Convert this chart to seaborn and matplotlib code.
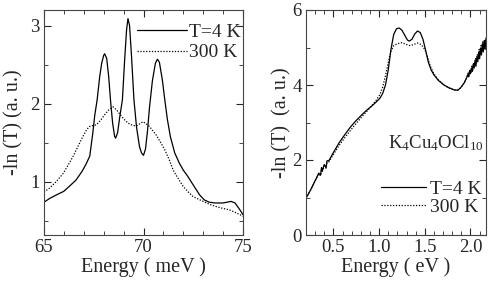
import numpy as np
import matplotlib
matplotlib.use('Agg')
import matplotlib.pyplot as plt
from matplotlib.ticker import MultipleLocator, FormatStrFormatter
import seaborn as sns

# left panel: phonon region (meV)
e_mev_4k = [65.0, 65.3, 65.6, 66.0, 66.3, 66.6, 66.9, 67.1, 67.3, 67.45, 67.55, 67.67, 67.8, 67.9,
            68.0, 68.05, 68.15, 68.25, 68.35, 68.45, 68.55, 68.6, 68.7, 68.8, 68.94, 69.05, 69.15,
            69.22, 69.3, 69.4, 69.52, 69.65, 69.8, 69.9, 70.0, 70.1, 70.2, 70.3, 70.45, 70.6, 70.7,
            70.8, 70.95, 71.07, 71.2, 71.35, 71.57, 71.8, 72.0, 72.2, 72.4, 72.6, 72.83, 73.05, 73.3,
            73.6, 74.0, 74.2, 74.4, 74.6, 74.85, 75.0]
ln_4k = [0.74, 0.79, 0.83, 0.88, 0.95, 1.02, 1.13, 1.22, 1.33, 1.62, 1.85, 2.05, 2.35, 2.52,
         2.62, 2.64, 2.58, 2.35, 2.02, 1.75, 1.58, 1.56, 1.63, 1.82, 2.05, 2.55, 2.95,
         3.09, 3.00, 2.60, 2.05, 1.70, 1.45, 1.37, 1.34, 1.42, 1.65, 1.95, 2.30, 2.52, 2.57,
         2.53, 2.30, 2.05, 1.80, 1.58, 1.37, 1.24, 1.15, 1.08, 1.00, 0.92, 0.83, 0.77, 0.74,
         0.73, 0.73, 0.74, 0.75, 0.73, 0.64, 0.58]

e_mev_300k = [65.0, 65.28, 65.6, 65.97, 66.2, 66.45, 66.7, 66.95, 67.15, 67.29, 67.45, 67.63, 67.85,
              68.05, 68.25, 68.47, 68.65, 68.89, 69.1, 69.3, 69.5, 69.67, 69.85, 69.97, 70.1, 70.3,
              70.45, 70.64, 70.85, 71.07, 71.3, 71.49, 71.75, 72.0, 72.25, 72.5, 72.75, 73.0, 73.35,
              73.7, 74.0, 74.34, 74.6, 74.85, 75.0]
ln_300k = [0.87, 0.92, 1.0, 1.11, 1.21, 1.32, 1.45, 1.58, 1.67, 1.71, 1.72, 1.73, 1.79,
           1.86, 1.92, 1.96, 1.92, 1.84, 1.78, 1.74, 1.72, 1.72, 1.75, 1.77, 1.75, 1.71,
           1.66, 1.60, 1.51, 1.41, 1.28, 1.15, 1.04, 0.94, 0.87, 0.81, 0.78, 0.75, 0.71,
           0.68, 0.66, 0.64, 0.61, 0.58, 0.56]

# right panel: wide range (eV)
e_ev_4k = [0.20, 0.25, 0.30, 0.34, 0.36, 0.37, 0.38, 0.40, 0.42, 0.43, 0.45, 0.50, 0.56, 0.62,
           0.68, 0.74, 0.80, 0.86, 0.92, 0.97, 1.01, 1.04, 1.07, 1.10, 1.13, 1.16, 1.19, 1.22,
           1.25, 1.28, 1.31, 1.33, 1.36, 1.39, 1.42, 1.45, 1.48, 1.51, 1.54, 1.57, 1.60, 1.65,
           1.71, 1.76, 1.82, 1.86, 1.89, 1.93, 1.96, 1.97, 1.98, 1.99, 2.00, 2.01, 2.02, 2.03,
           2.04, 2.05, 2.06, 2.07, 2.08, 2.09, 2.10, 2.11, 2.12, 2.13, 2.14, 2.15, 2.16, 2.17]
ln_ev_4k = [0.98, 1.20, 1.45, 1.65, 1.60, 1.80, 1.72, 1.88, 1.80, 1.98, 1.98, 2.20, 2.45, 2.66,
            2.86, 3.03, 3.18, 3.32, 3.44, 3.55, 3.65, 3.78, 4.00, 4.40, 4.95, 5.35, 5.50, 5.52,
            5.46, 5.33, 5.20, 5.17, 5.22, 5.36, 5.44, 5.40, 5.22, 4.92, 4.60, 4.40, 4.27, 4.12,
            4.00, 3.93, 3.87, 3.86, 3.92, 4.05, 4.20, 4.28, 4.22, 4.38, 4.30, 4.45, 4.36, 4.55,
            4.45, 4.65, 4.50, 4.75, 4.62, 4.88, 4.70, 4.98, 4.80, 5.10, 4.88, 5.18, 4.95, 5.25]

e_ev_300k = [0.20, 0.25, 0.30, 0.34, 0.36, 0.37, 0.38, 0.40, 0.42, 0.43, 0.45, 0.50, 0.56, 0.62,
             0.68, 0.74, 0.80, 0.86, 0.92, 0.97, 1.01, 1.04, 1.07, 1.10, 1.13, 1.16, 1.20, 1.25,
             1.30, 1.34, 1.38, 1.42, 1.46, 1.50, 1.53, 1.56, 1.60, 1.65, 1.71, 1.76, 1.82, 1.86,
             1.89, 1.93, 1.96, 1.975, 1.985, 1.995, 2.005, 2.015, 2.025, 2.035, 2.045, 2.055, 2.065,
             2.075, 2.085, 2.095, 2.105, 2.115, 2.125, 2.135, 2.145, 2.155, 2.165]
ln_ev_300k = [0.98, 1.20, 1.44, 1.63, 1.58, 1.78, 1.70, 1.85, 1.78, 1.94, 1.95, 2.15, 2.38, 2.58,
              2.77, 2.95, 3.12, 3.28, 3.45, 3.60, 3.75, 3.95, 4.25, 4.60, 4.90, 5.05, 5.10, 5.13,
              5.08, 5.05, 5.08, 5.12, 5.08, 4.95, 4.75, 4.50, 4.30, 4.13, 4.00, 3.93, 3.87, 3.86,
              3.92, 4.05, 4.20, 4.32, 4.24, 4.42, 4.33, 4.52, 4.40, 4.60, 4.50, 4.72, 4.58, 4.82,
              4.68, 4.95, 4.78, 5.05, 4.90, 5.15, 4.98, 5.22, 5.08]

labels = ['T=4 K', '300 K']

sns.set_style('ticks')
plt.rcParams['font.family'] = ['Liberation Serif', 'DejaVu Serif']
plt.rcParams['mathtext.fontset'] = 'custom'
plt.rcParams['mathtext.rm'] = 'Liberation Serif'
plt.rcParams['mathtext.it'] = 'Liberation Serif:italic'

fig = plt.figure(figsize=(4.91, 2.85), dpi=100)
ax1 = fig.add_axes([44/491, 1-235/285, 199/491, 225/285])
ax2 = fig.add_axes([306/491, 1-235/285, 180/491, 225/285])

sns.lineplot(x=e_mev_4k, y=ln_4k, ax=ax1, color='k', lw=0.9, label=labels[0])
sns.lineplot(x=e_mev_300k, y=ln_300k, ax=ax1, color='k', lw=0.9, linestyle=(0, (1, 1.3)), label=labels[1])
sns.lineplot(x=e_ev_4k, y=ln_ev_4k, ax=ax2, color='k', lw=0.9, label=labels[0])
sns.lineplot(x=e_ev_300k, y=ln_ev_300k, ax=ax2, color='k', lw=0.9, linestyle=(0, (1, 1.3)), label=labels[1])

ax1.set_xlim(65, 75)
ax1.set_ylim(0.32, 3.2)
ax1.xaxis.set_major_locator(MultipleLocator(5))
ax1.xaxis.set_minor_locator(MultipleLocator(1))
ax1.yaxis.set_major_locator(MultipleLocator(1))
ax1.yaxis.set_minor_locator(MultipleLocator(0.5))
ax1.set_xlabel('Energy ( meV )', fontsize=14.5, labelpad=1)
ax1.set_ylabel('-ln (T) (a. u.)', fontsize=14.5, labelpad=5)

ax2.set_xlim(0.2, 2.17)
ax2.set_ylim(0, 6)
ax2.xaxis.set_major_locator(MultipleLocator(0.5))
ax2.xaxis.set_minor_locator(MultipleLocator(0.1))
ax2.xaxis.set_major_formatter(FormatStrFormatter('%.1f'))
ax2.yaxis.set_major_locator(MultipleLocator(2))
ax2.yaxis.set_minor_locator(MultipleLocator(1))
ax2.set_xlabel('Energy ( eV )', fontsize=14.5, labelpad=1)
ax2.set_ylabel('-ln (T)  (a. u.)', fontsize=14.5, labelpad=1)
ax2.text(0.72, 0.41, r'K$_4$Cu$_4$OCl$_{10}$', transform=ax2.transAxes,
         ha='center', va='center', fontsize=13.5)

for ax in (ax1, ax2):
    ax.tick_params(which='both', direction='in', top=True, right=True, labelsize=13.5, pad=3)
    ax.tick_params(which='major', length=5, width=0.8)
    ax.tick_params(which='minor', length=3, width=0.6)
    for s in ax.spines.values():
        s.set_linewidth(0.8)
        s.set_color('#444444')

ax1.legend(loc='upper right', bbox_to_anchor=(1.0, 0.95), frameon=False, fontsize=14,
           handlelength=2.6, handletextpad=0.1, labelspacing=0.15, borderaxespad=0.0, borderpad=0.1)
ax2.legend(loc='lower right', bbox_to_anchor=(0.985, 0.075), frameon=False, fontsize=14,
           handlelength=2.3, handletextpad=0.2, labelspacing=0.05, borderaxespad=0.0, borderpad=0.1)

fig.savefig('out.png', dpi=100)
